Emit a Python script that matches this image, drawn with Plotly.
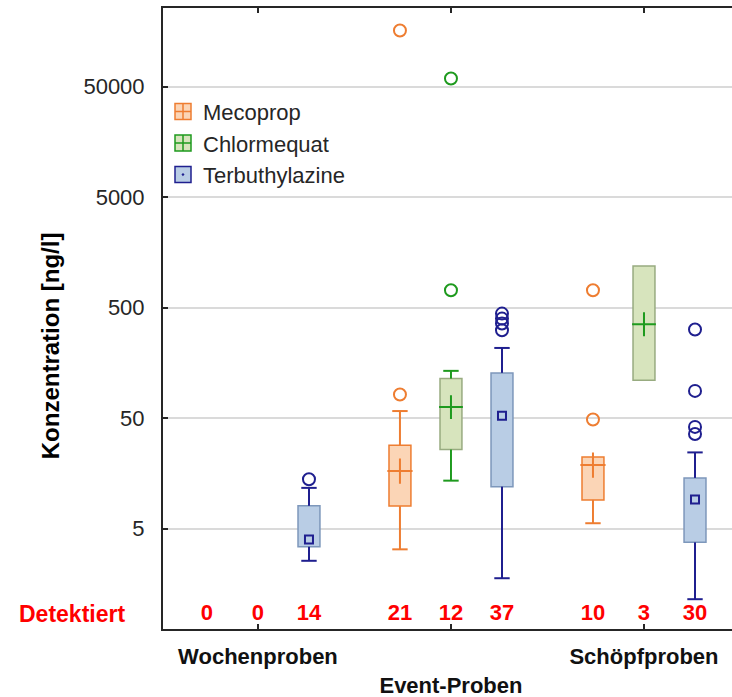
import math
import plotly.graph_objects as go

# ---------------------------------------------------------------------------
# Data: concentrations in ng/l, one value per sampling type (None = no box)
# ---------------------------------------------------------------------------
GROUPS = ["Wochenproben", "Event-Proben", "Schöpfproben"]
GROUP_TICKTEXT = ["Wochenproben", "<br>Event-Proben", "Schöpfproben"]
Y_TICKS = [5, 50, 500, 5000, 50000]
Y_TICKTEXT = ["5", "50", "500", "5000", "50000"]

SERIES = ["Mecoprop", "Chlormequat", "Terbuthylazine"]

# number of detections per sampling type
DETECTED_MECOPROP = [0, 21, 10]
DETECTED_CHLORMEQUAT = [0, 12, 3]
DETECTED_TERBUTHYLAZINE = [14, 37, 30]

# Mecoprop: whisker low, 25 %, median, 75 %, whisker high, outliers
MECOPROP_LOW = [None, 3.25, 5.6]
MECOPROP_Q1 = [None, 8.0, 9.1]
MECOPROP_MEDIAN = [None, 16.6, 18.8]
MECOPROP_Q3 = [None, 28.5, 22.3]
MECOPROP_HIGH = [None, 58.0, 22.3]
MECOPROP_OUTLIERS = [[], [82.0, 161000.0], [48.6, 718.0]]

# Chlormequat
CHLORMEQUAT_LOW = [None, 13.6, 110.0]
CHLORMEQUAT_Q1 = [None, 26.0, 110.0]
CHLORMEQUAT_MEDIAN = [None, 63.0, 354.0]
CHLORMEQUAT_Q3 = [None, 114.0, 1190.0]
CHLORMEQUAT_HIGH = [None, 134.0, 1190.0]
CHLORMEQUAT_OUTLIERS = [[], [718.0, 59300.0], []]

# Terbuthylazine
TERBUTHYLAZINE_LOW = [2.56, 1.78, 1.15]
TERBUTHYLAZINE_Q1 = [3.43, 12.0, 3.76]
TERBUTHYLAZINE_MEDIAN = [4.0, 52.5, 9.2]
TERBUTHYLAZINE_Q3 = [8.05, 128.5, 14.4]
TERBUTHYLAZINE_HIGH = [11.7, 216.0, 24.5]
TERBUTHYLAZINE_OUTLIERS = [[14.0], [312.0, 359.0, 398.0, 442.0], [36.0, 41.7, 88.3, 317.0]]

# ---------------------------------------------------------------------------
# Styling
# ---------------------------------------------------------------------------
FONT = "Liberation Sans, Arial, sans-serif"
TEXT_COLOR = "#262626"
AXIS_COLOR = "#262626"
RED = "#ff0000"
COUNT_ROW_Y = 0.84  # value level on the log axis where the counts are written

STYLES = {
    "Mecoprop": dict(line="#ee7d31", border="#ee7d31", fill="#fbd5b6",
                     median_symbol="cross-thin", median_size=18,
                     legend_symbol="square-cross"),
    "Chlormequat": dict(line="#1e9a1e", border="#98ab80", fill="#d7e4bd",
                        median_symbol="cross-thin", median_size=17,
                        legend_symbol="square-cross"),
    "Terbuthylazine": dict(line="#1f1f8f", border="#7d97bb", fill="#b9cde5",
                           median_symbol="square-open", median_size=8,
                           legend_symbol="square-dot"),
}

fig = go.Figure()


def add_series(name, low, q1, med, q3, high, outliers, detected):
    st = STYLES[name]
    og = name

    # box body: 25 % .. 75 %
    heights = [None if a is None else b - a for a, b in zip(q1, q3)]
    fig.add_trace(go.Bar(
        x=GROUPS, y=heights, base=q1, offsetgroup=og, name=name,
        marker=dict(color=st["fill"], line=dict(color=st["border"], width=1.5)),
        showlegend=False, hoverinfo="skip",
    ))

    # whiskers (only where they leave the box)
    wx, wy, cx, cy = [], [], [], []
    for g, lo, a, b, hi in zip(GROUPS, low, q1, q3, high):
        if a is None:
            continue
        if lo < a:
            wx += [g, g, None]
            wy += [lo, a, None]
            cx.append(g)
            cy.append(lo)
        if hi > b:
            wx += [g, g, None]
            wy += [b, hi, None]
            cx.append(g)
            cy.append(hi)
    fig.add_trace(go.Scatter(
        x=wx, y=wy, mode="lines", offsetgroup=og, showlegend=False,
        line=dict(color=st["line"], width=2), hoverinfo="skip",
    ))
    fig.add_trace(go.Scatter(
        x=cx, y=cy, mode="markers", offsetgroup=og, showlegend=False,
        marker=dict(symbol="line-ew", size=11,
                    line=dict(color=st["line"], width=2)),
        hoverinfo="skip",
    ))

    # median marker
    mx = [g for g, m in zip(GROUPS, med) if m is not None]
    my = [m for m in med if m is not None]
    fig.add_trace(go.Scatter(
        x=mx, y=my, mode="markers", offsetgroup=og, showlegend=False,
        marker=dict(symbol=st["median_symbol"], size=st["median_size"],
                    color=st["line"], line=dict(color=st["line"], width=2)),
        hoverinfo="skip",
    ))

    # outliers
    ox = [g for g, vals in zip(GROUPS, outliers) for _ in vals]
    oy = [v for vals in outliers for v in vals]
    fig.add_trace(go.Scatter(
        x=ox, y=oy, mode="markers", offsetgroup=og, showlegend=False,
        marker=dict(symbol="circle-open", size=12,
                    color=st["line"], line=dict(color=st["line"], width=2)),
        hoverinfo="skip",
    ))

    # number of detections under each box
    fig.add_trace(go.Scatter(
        x=GROUPS, y=[COUNT_ROW_Y] * len(GROUPS), mode="text",
        text=[str(n) for n in detected], offsetgroup=og, showlegend=False,
        textfont=dict(family=FONT, size=22, color=RED, weight="bold"),
        hoverinfo="skip",
    ))

    # legend key
    fig.add_trace(go.Scatter(
        x=[None], y=[None], mode="markers", name=name, offsetgroup=og,
        marker=dict(symbol=st["legend_symbol"], size=16, color=st["fill"],
                    line=dict(color=st["line"], width=1.5)),
    ))


add_series("Mecoprop", MECOPROP_LOW, MECOPROP_Q1, MECOPROP_MEDIAN,
           MECOPROP_Q3, MECOPROP_HIGH, MECOPROP_OUTLIERS, DETECTED_MECOPROP)
add_series("Chlormequat", CHLORMEQUAT_LOW, CHLORMEQUAT_Q1, CHLORMEQUAT_MEDIAN,
           CHLORMEQUAT_Q3, CHLORMEQUAT_HIGH, CHLORMEQUAT_OUTLIERS,
           DETECTED_CHLORMEQUAT)
add_series("Terbuthylazine", TERBUTHYLAZINE_LOW, TERBUTHYLAZINE_Q1,
           TERBUTHYLAZINE_MEDIAN, TERBUTHYLAZINE_Q3, TERBUTHYLAZINE_HIGH,
           TERBUTHYLAZINE_OUTLIERS, DETECTED_TERBUTHYLAZINE)

fig.update_layout(
    width=732, height=697,
    margin=dict(l=163, r=0, t=8, b=68, pad=0),
    paper_bgcolor="white", plot_bgcolor="white",
    font=dict(family=FONT, color=TEXT_COLOR),
    barmode="group", bargap=0.207, bargroupgap=0.57,
    scattermode="group", scattergap=0.207,
    showlegend=True,
    legend=dict(x=0.0, y=0.867, xanchor="left", yanchor="top",
                bgcolor="rgba(0,0,0,0)", tracegroupgap=0,
                font=dict(family=FONT, size=22, color=TEXT_COLOR)),
    xaxis=dict(
        type="category", categoryorder="array", categoryarray=GROUPS,
        range=[-0.492, 2.456], automargin=False,
        tickmode="array", tickvals=GROUPS, ticktext=GROUP_TICKTEXT,
        ticks="inside", ticklen=5, tickwidth=1.5, tickcolor=AXIS_COLOR,
        showline=True, linecolor=AXIS_COLOR, linewidth=2, mirror="ticks",
        showgrid=False, zeroline=False,
        tickfont=dict(family=FONT, size=22, color="#111111", weight="bold"),
        ticklabelstandoff=7,
    ),
    yaxis=dict(
        type="log", range=[-0.209, 5.411], automargin=False,
        tickmode="array", tickvals=Y_TICKS, ticktext=Y_TICKTEXT,
        ticks="inside", ticklen=5, tickwidth=1.5, tickcolor=AXIS_COLOR,
        showline=True, linecolor=AXIS_COLOR, linewidth=2,
        showgrid=True, gridcolor="#dadada", gridwidth=2, zeroline=False,
        tickfont=dict(family=FONT, size=22, color=TEXT_COLOR),
        ticklabelstandoff=12,
    ),
    yaxis2=dict(
        overlaying="y", side="right", anchor="x", range=[0, 10], dtick=1,
        automargin=False,
        ticks="inside", ticklen=4, tickwidth=1, tickcolor="#c4c4c4",
        showticklabels=False, showgrid=False, showline=False, zeroline=False,
    ),
    annotations=[
        dict(text="Konzentration [ng/l]", textangle=-90,
             xref="paper", yref="paper", x=(50 - 163) / 569, y=(629 - 346) / 621.5,
             xanchor="center", yanchor="middle", showarrow=False,
             font=dict(family=FONT, size=24, color="#000000", weight="bold")),
        dict(text="Detektiert",
             xref="paper", yref="y", x=(71.5 - 163) / 569, y=math.log10(COUNT_ROW_Y),
             xanchor="center", yanchor="middle", showarrow=False,
             font=dict(family=FONT, size=23, color=RED, weight="bold")),
    ],
)

fig.write_html("out.html")
